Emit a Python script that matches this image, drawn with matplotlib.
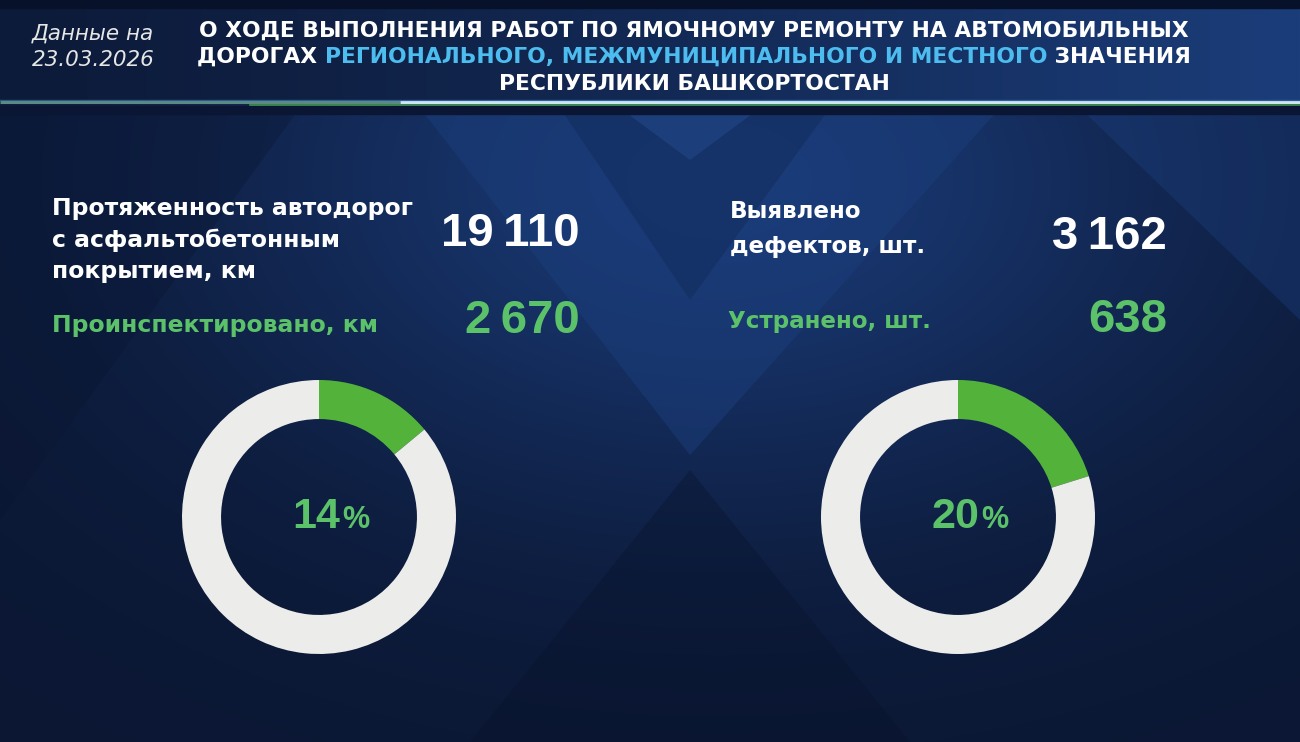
import numpy as np
import matplotlib
matplotlib.use('Agg')
import matplotlib.pyplot as plt
from matplotlib.patches import Polygon

# Data
report_date = '23.03.2026'
roads_total_km = 19110
roads_inspected_km = 2670
defects_found = 3162
defects_fixed = 638

title_lines = [
    [('О ХОДЕ ВЫПОЛНЕНИЯ РАБОТ ПО ЯМОЧНОМУ РЕМОНТУ НА АВТОМОБИЛЬНЫХ', 'w')],
    [('ДОРОГАХ ', 'w'), ('РЕГИОНАЛЬНОГО, МЕЖМУНИЦИПАЛЬНОГО И МЕСТНОГО', 'b'), (' ЗНАЧЕНИЯ', 'w')],
    [('РЕСПУБЛИКИ БАШКОРТОСТАН', 'w')],
]
left_labels = ['Протяженность автодорог', 'с асфальтобетонным', 'покрытием, км']
left_done_label = 'Проинспектировано, км'
right_labels = ['Выявлено', 'дефектов, шт.']
right_done_label = 'Устранено, шт.'

W, H = 1300, 742
GREEN_TXT = '#5cc26a'
GREEN_ARC = '#52b23a'
RING = '#ececea'
BLUE_TXT = '#4dbdf0'
NUM_FONT = ['Liberation Sans', 'DejaVu Sans']
LBL_FONT = ['DejaVu Sans']

plt.rcParams['font.family'] = NUM_FONT


def fmt(n):
    # thin space as thousands separator, like on the slide
    return f'{n:,}'.replace(',', '\u2009')


fig = plt.figure(figsize=(W / 100, H / 100), dpi=100)
bg = fig.add_axes([0, 0, 1, 1])
bg.set_xlim(0, W)
bg.set_ylim(H, 0)
bg.axis('off')

# background gradient
yy, xx = np.mgrid[0:H, 0:W]
dark = np.array([0x0b, 0x17, 0x33]) / 255
light = np.array([0x19, 0x38, 0x72]) / 255
glow = np.exp(-(((xx - 720) / 520) ** 2 + ((yy - 180) / 330) ** 2))
img = dark + glow[..., None] * (light - dark)
bg.imshow(img, extent=(0, W, H, 0), aspect='auto', zorder=0)

# chevron decoration
shapes = [
    ([(420, 108), (1000, 108), (690, 455)], '#1c4080', 0.45),
    ([(560, 108), (830, 108), (690, 300)], '#0f2550', 0.35),
    ([(620, 108), (760, 108), (690, 160)], '#2a56a0', 0.35),
    ([(1080, 108), (1300, 108), (1300, 320)], '#1d4286', 0.35),
    ([(470, 742), (690, 470), (910, 742)], '#08122a', 0.35),
    ([(0, 108), (300, 108), (0, 520)], '#0a1632', 0.35),
]
for pts, col, a in shapes:
    bg.add_patch(Polygon(pts, closed=True, facecolor=col, edgecolor='none', alpha=a, zorder=1))

# header band
hx = np.linspace(0, 1, W)
c0 = np.array([0x0d, 0x1b, 0x3a]) / 255
c1 = np.array([0x1b, 0x3d, 0x7a]) / 255
hdr = c0 + hx[:, None] ** 1.3 * (c1 - c0)
bg.imshow(hdr[None, :, :], extent=(0, W, 100, 8), aspect='auto', zorder=2)
bg.fill_between([0, W], 0, 8, color='#08112a', zorder=2)
bg.fill_between([0, W], 106, 114, color='#0a1634', zorder=2)
# glowing separator line
for x0, x1, c in [(0, 400, '#5d8a80'), (400, W, '#cfe6f0')]:
    bg.plot([x0, x1], [102, 102], color=c, lw=2.2, zorder=3, solid_capstyle='butt')
bg.plot([250, W], [105, 105], color='#4caf50', lw=1.2, alpha=0.8, zorder=3)
bg.plot([0, W], [99.5, 99.5], color='#3e7fc0', lw=1.0, alpha=0.6, zorder=3)

fig.canvas.draw()
r = fig.canvas.get_renderer()

# date block
for y, s in [(40, 'Данные на'), (66, report_date)]:
    bg.text(93, y, s, color='#e6e6e6', fontsize=15.5, style='italic', family=LBL_FONT,
            ha='center', va='baseline', zorder=5)

# title, lines centered, mixed colours on line 2; size fitted to the slide width
probe = bg.text(0, 0, title_lines[0][0][0], fontsize=15, fontweight='bold', family=LBL_FONT)
title_size = 15 * 988 / probe.get_window_extent(r).width
probe.remove()
for baseline, parts in zip([37, 63, 90], title_lines):
    ts = []
    for s, c in parts:
        t = bg.text(0, baseline, s, color='white' if c == 'w' else BLUE_TXT, fontsize=title_size,
                    fontweight='bold', family=LBL_FONT, ha='left', va='baseline', zorder=5)
        ts.append(t)
    widths = [t.get_window_extent(r).width for t in ts]
    x = 694 - sum(widths) / 2
    for t, w in zip(ts, widths):
        t.set_x(x)
        x += w

lbl = dict(fontweight='bold', family=LBL_FONT, va='baseline', zorder=5)
num = dict(fontsize=34, fontweight='bold', ha='right', va='baseline', zorder=5)

# left block
for i, s in enumerate(left_labels):
    bg.text(52, 215 + 31.5 * i, s, color='white', fontsize=16.9, **lbl)
bg.text(52, 332, left_done_label, color=GREEN_TXT, fontsize=16.9, **lbl)
bg.text(580, 246, fmt(roads_total_km), color='white', **num)
bg.text(580, 333, fmt(roads_inspected_km), color=GREEN_TXT, **num)

# right block
for i, s in enumerate(right_labels):
    bg.text(730, 218 + 35 * i, s, color='white', fontsize=16.6, **lbl)
bg.text(728, 328, right_done_label, color=GREEN_TXT, fontsize=16.6, **lbl)
bg.text(1167, 249, fmt(defects_found), color='white', **num)
bg.text(1167, 332, fmt(defects_fixed), color=GREEN_TXT, **num)

# donuts
R = 137
for cx, cy, done, total in [(319, 517, roads_inspected_km, roads_total_km),
                            (958, 517, defects_fixed, defects_found)]:
    ax = fig.add_axes([(cx - R) / W, (H - cy - R) / H, 2 * R / W, 2 * R / H])
    ax.pie([done, total - done], colors=[GREEN_ARC, RING], startangle=90, counterclock=False,
           radius=1, wedgeprops=dict(width=0.285, edgecolor='none', linewidth=0))
    ax.set_xlim(-1, 1)
    ax.set_ylim(-1, 1)
    ax.set_aspect('equal')
    ax.axis('off')
    pct = round(100 * done / total)
    bg.text(cx + 21, 528, str(pct), color=GREEN_TXT, fontsize=31, fontweight='bold',
            ha='right', va='baseline', zorder=5)
    bg.text(cx + 23, 528, '%', color=GREEN_TXT, fontsize=22, fontweight='bold',
            ha='left', va='baseline', zorder=5)

fig.savefig('out.png', dpi=100, facecolor='#0b1733')
